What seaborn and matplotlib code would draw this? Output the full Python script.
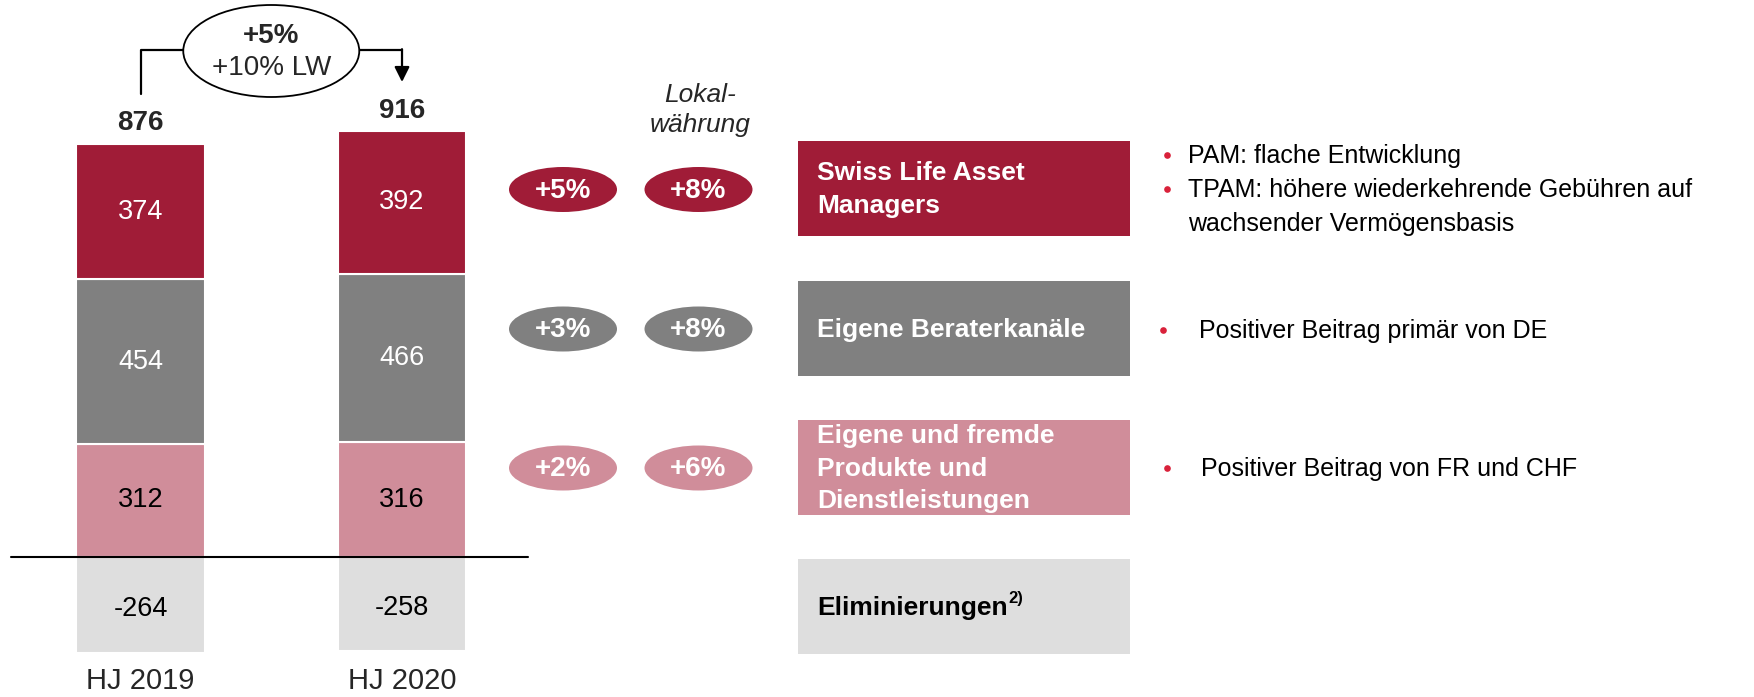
import numpy as np
import matplotlib
matplotlib.use("Agg")
import matplotlib.pyplot as plt
from matplotlib.patches import Ellipse, Rectangle
import seaborn as sns

sns.set_style("white")
plt.rcParams['font.family'] = ['Liberation Sans', 'DejaVu Sans']

# data (CHF Mio.)
periods = ["HJ 2019", "HJ 2020"]
produkte = [312, 316]
berater = [454, 466]
slam = [374, 392]
elim = [-264, -258]
totals = [876, 916]

total_growth = "+5%"
total_growth_lw = "+10% LW"

# segment rows, top to bottom
growth_chf = ["+5%", "+3%", "+2%"]
growth_lw = ["+8%", "+8%", "+6%"]
box_labels = ["Swiss Life Asset\nManagers", "Eigene Beraterkanäle",
              "Eigene und fremde\nProdukte und\nDienstleistungen"]
bullets = [
    [(True, "PAM: flache Entwicklung"),
     (True, "TPAM: höhere wiederkehrende Gebühren auf"),
     (False, "wachsender Vermögensbasis")],
    [(True, "Positiver Beitrag primär von DE")],
    [(True, "Positiver Beitrag von FR und CHF")],
]

red = "#A01C37"
gray = "#808080"
pink = "#D08D9A"
light = "#DEDEDE"
bullet_red = "#D9213A"
row_colors = [red, gray, pink]

W, H = 1754, 697
fig = plt.figure(figsize=(W / 100, H / 100), dpi=100)
ax = fig.add_axes([0, 0, 1, 1])
ax_px = fig.add_axes([0, 0, 1, 1], facecolor="none")
ax_px.set_xlim(0, W)
ax_px.set_ylim(H, 0)
ax_px.axis("off")

# stacked bars
bar_w = 0.493
bottom = np.zeros(len(periods))
for vals, col, tc in [(produkte, pink, "black"), (berater, gray, "white"), (slam, red, "white")]:
    sns.barplot(x=periods, y=vals, bottom=bottom, color=col, saturation=1, width=bar_w,
                edgecolor="white", linewidth=1.5, ax=ax)
    for i, v in enumerate(vals):
        ax.text(i, bottom[i] + v / 2, str(v), ha="center", va="center", color=tc, fontsize=19.5)
    bottom = bottom + np.array(vals)

sns.barplot(x=periods, y=elim, color=light, saturation=1, width=bar_w,
            edgecolor="white", linewidth=1.5, ax=ax)
for i, v in enumerate(elim):
    ax.annotate(str(v), xy=(i, v / 2), xytext=(0, -3), textcoords="offset points",
                ha="center", va="center", color="black", fontsize=19.5)

for i, t in enumerate(totals):
    ax.annotate(str(t), xy=(i, bottom[i]), xytext=(0, 15), textcoords="offset points",
                ha="center", va="center", fontsize=20, fontweight="bold")

ax.set_xlim(-0.5373, 6.170)
ax.set_ylim(-386.2, 1536.6)
ax.axis("off")
ax.axhline(0, xmin=11 / W, xmax=528 / W, color="black", lw=1.5, zorder=5)

# bar centres in pixels
xc = [ax.transData.transform((i, 0))[0] for i in range(len(periods))]
for i, p in enumerate(periods):
    ax_px.text(xc[i], 681, p, ha="center", va="center", fontsize=21)

# growth bracket on top
ecx = (xc[0] + xc[1]) / 2
ell_w, ell_h, ecy = 176, 92, 51
ax_px.add_patch(Ellipse((ecx, ecy), ell_w, ell_h, facecolor="white", edgecolor="black", lw=1.3, zorder=3))
ax_px.plot([xc[0], xc[0], ecx - ell_w / 2], [94, 50, 50], color="black", lw=1.6, zorder=2)
ax_px.plot([ecx + ell_w / 2, xc[1]], [50, 50], color="black", lw=1.6, zorder=2)
ax_px.annotate("", xy=(xc[1], 82), xytext=(xc[1], 49.2),
               arrowprops=dict(arrowstyle="-|>,head_length=0.9,head_width=0.45",
                               color="black", lw=1.6, shrinkA=0, shrinkB=0))
ax_px.text(ecx, 36, total_growth, ha="center", va="center", fontsize=20, fontweight="bold", zorder=4)
ax_px.text(ecx, 68, total_growth_lw, ha="center", va="center", fontsize=20, zorder=4)

# growth ellipses per segment
ax_px.text(700, 110, "Lokal-\nwährung", ha="center", va="center", fontsize=19,
           style="italic", linespacing=1.32)
row_y = [189.5, 329, 468]
for r in range(3):
    for cx, txt in [(563, growth_chf[r]), (698.5, growth_lw[r])]:
        ax_px.add_patch(Ellipse((cx, row_y[r]), 108, 45, facecolor=row_colors[r], edgecolor="none"))
        ax_px.text(cx, row_y[r] + 1, txt, ha="center", va="center", color="white",
                   fontsize=20, fontweight="bold")

# segment boxes
box_x, box_w, box_h = 798, 332, 95
box_tops = [141, 281, 420, 559]
for r, top in enumerate(box_tops):
    col = row_colors[r] if r < 3 else light
    ax_px.add_patch(Rectangle((box_x, top), box_w, box_h, facecolor=col, edgecolor="none"))
for r in range(3):
    ax_px.text(817, box_tops[r] + box_h / 2 + 1, box_labels[r], ha="left", va="center",
               color="white", fontsize=19, fontweight="bold", linespacing=1.44)
t_el = ax_px.text(817, box_tops[3] + box_h / 2 + 1, "Eliminierungen", ha="left", va="center",
                  color="black", fontsize=19, fontweight="bold")
renderer = fig.canvas.get_renderer()
bb = t_el.get_window_extent(renderer)
ax_px.text(bb.x1 + 1, box_tops[3] + box_h / 2 - 8, "2)", ha="left", va="center",
           color="black", fontsize=12, fontweight="bold")

# bullet comments
bullet_lines_y = [[156, 190, 224], [331], [469]]
text_x = [1188, 1199, 1201]
dot_x = [1167, 1163, 1167]
for r in range(3):
    for (has_dot, line), y in zip(bullets[r], bullet_lines_y[r]):
        if has_dot:
            ax_px.plot(dot_x[r], y - 1, marker="o", markersize=4.8, color=bullet_red, mec="none")
        ax_px.text(text_x[r], y, line, ha="left", va="center", color="black", fontsize=18)

fig.savefig("out.png", dpi=100)
plt.close(fig)
